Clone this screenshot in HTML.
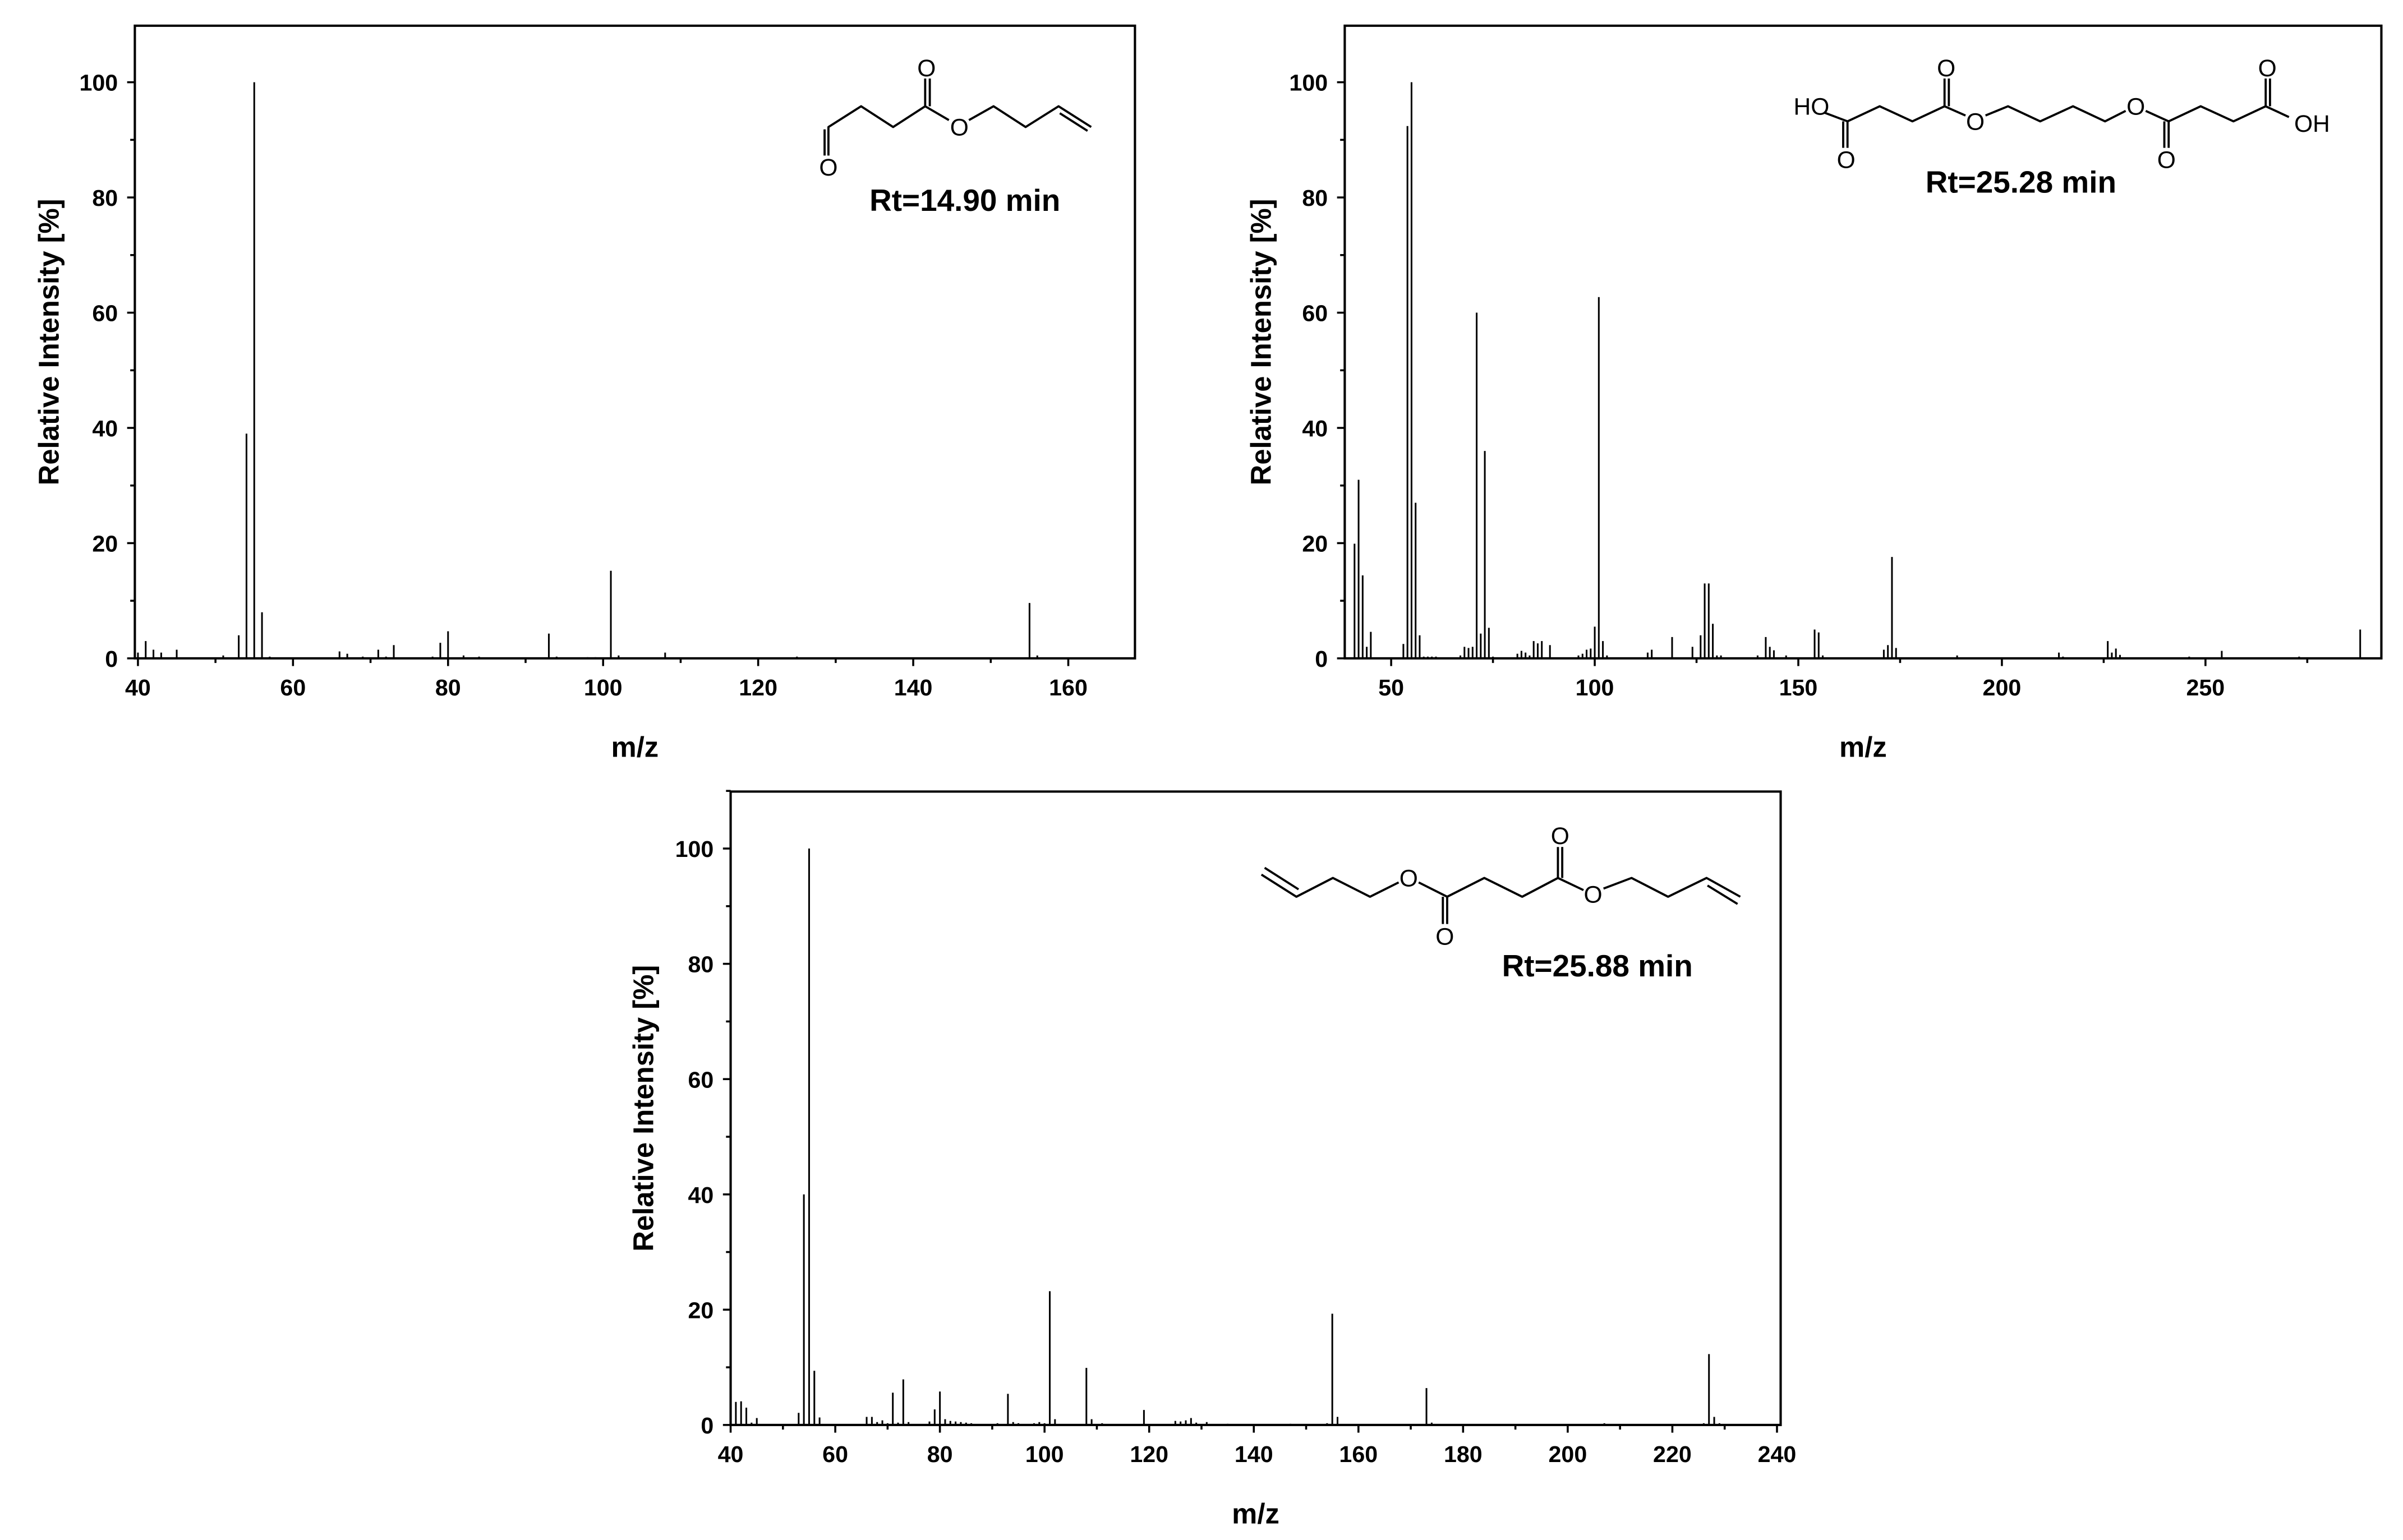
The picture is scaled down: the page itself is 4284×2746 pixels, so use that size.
<!DOCTYPE html>
<html><head><meta charset="utf-8"><style>
html,body{margin:0;padding:0;background:#fff;}
svg{display:block;font-family:"Liberation Sans",Arial,sans-serif;font-weight:bold;}
</style></head><body>
<svg id="fig" width="4284" height="2746" viewBox="0 0 1560 1000" xmlns="http://www.w3.org/2000/svg">
<g id="structures" fill="none" stroke="#000" stroke-width="1.4" stroke-linejoin="round">
 <g>
  <polyline points="537.8,101 537.8,82.5 559,69 579.8,82.5 600.6,69 616,78"/>
  <line x1="535.3" y1="101" x2="535.3" y2="84"/>
  <line x1="600.6" y1="69" x2="600.6" y2="51"/><line x1="603.6" y1="69" x2="603.6" y2="51"/>
  <polyline points="629,78 645,69 665.8,82.5 687.2,69 708.4,82.5"/>
  <line x1="688" y1="73.5" x2="706" y2="85"/>
 </g>
 <g>
  <polyline points="1184,73 1199.4,78.8 1220.3,69 1241.5,78.8 1262.4,69 1276,75"/>
  <line x1="1199.4" y1="78.8" x2="1199.4" y2="96"/><line x1="1196.6" y1="78.8" x2="1196.6" y2="96"/>
  <line x1="1262.4" y1="69" x2="1262.4" y2="51"/><line x1="1265.2" y1="69" x2="1265.2" y2="51"/>
  <polyline points="1289,75 1303.6,69 1324.5,78.8 1345.8,69 1366.6,78.8 1380,72"/>
  <polyline points="1393,72 1407.9,78.8 1428.7,69 1450,78.8 1470.9,69 1486,76"/>
  <line x1="1407.9" y1="78.8" x2="1407.9" y2="96"/><line x1="1405.1" y1="78.8" x2="1405.1" y2="96"/>
  <line x1="1470.9" y1="69" x2="1470.9" y2="51"/><line x1="1473.7" y1="69" x2="1473.7" y2="51"/>
 </g>
 <g>
  <polyline points="818.9,567.9 841.6,582.3 865.3,570.1 889.4,582.3 908,573"/>
  <line x1="821" y1="563.5" x2="843" y2="577.5"/>
  <polyline points="921,573 939.5,582.3 963.6,570.1 988.2,582.3 1011.4,570.1 1028,578"/>
  <line x1="939.5" y1="582.3" x2="939.5" y2="600"/><line x1="936.7" y1="582.3" x2="936.7" y2="600"/>
  <line x1="1011.4" y1="570.1" x2="1011.4" y2="550"/><line x1="1014.2" y1="570.1" x2="1014.2" y2="550"/>
  <polyline points="1041,577 1059.2,570.1 1082.9,582.3 1107.9,570.1 1129.8,582.3"/>
  <line x1="1108.5" y1="575" x2="1128" y2="587"/>
 </g>
</g>
<g font-weight="normal" font-size="15.5" text-anchor="middle" fill="#000">
 <text x="537.8" y="114">O</text>
 <text x="601.5" y="49.5">O</text>
 <text x="622.8" y="88">O</text>
 <text x="1176" y="74.5">HO</text>
 <text x="1198.5" y="109">O</text>
 <text x="1263.5" y="49.5">O</text>
 <text x="1282.4" y="84.3">O</text>
 <text x="1386.6" y="74.5">O</text>
 <text x="1406.5" y="109">O</text>
 <text x="1472" y="49.5">O</text>
 <text x="1501" y="85.5">OH</text>
 <text x="914.5" y="575.5">O</text>
 <text x="938" y="613.5">O</text>
 <text x="1012.8" y="548">O</text>
 <text x="1034.2" y="586.2">O</text>
</g>
<g font-size="20" text-anchor="middle">
 <text x="626.4" y="137">Rt=14.90 min</text>
 <text x="1312" y="125">Rt=25.28 min</text>
 <text x="1037" y="634">Rt=25.88 min</text>
</g>
</svg>
<script>
// Panel 1 data (m/z, relative intensity)
const mz1 = [40,41,42,43,45,51,53,54,55,56,57,66,67,69,71,72,73,78,79,80,82,84,93,94,98,99,101,102,108,125,155,156];
const int1 = [1,3,1.5,1,1.5,0.5,4,39,100,8,0.3,1.2,0.8,0.3,1.5,0.3,2.3,0.3,2.7,4.7,0.5,0.3,4.3,0.3,0.2,0.2,15.2,0.5,1,0.3,9.6,0.5];
const xTicks1 = [40,60,80,100,120,140,160];
// Panel 2 data
const mz2 = [41,42,43,44,45,53,54,55,56,57,58,59,60,61,67,68,69,70,71,72,73,74,75,81,82,83,84,85,86,87,89,96,97,98,99,100,101,102,103,113,114,119,124,126,127,128,129,130,131,140,142,143,144,147,154,155,156,171,172,173,174,189,214,215,226,227,228,229,246,254,273,288];
const int2 = [19.9,31,14.4,2,4.6,2.5,92.4,100,27,4,0.3,0.3,0.3,0.3,0.5,2,1.8,2,60,4.3,36,5.3,0.3,0.8,1.3,1,0.5,3,2.6,3,2.3,0.5,0.8,1.5,1.7,5.5,62.7,3,0.5,1,1.5,3.7,2,4,13,13,6,0.5,0.5,0.5,3.7,2,1.4,0.5,5,4.5,0.5,1.5,2.3,17.6,1.8,0.5,1,0.3,3,1,1.7,0.6,0.3,1.3,0.3,5];
const xTicks2 = [50,100,150,200,250];
// Panel 3 data
const mz3 = [41,42,43,44,45,53,54,55,56,57,66,67,68,69,70,71,72,73,74,78,79,80,81,82,83,84,85,86,91,93,94,95,98,99,100,101,102,108,109,111,119,125,126,127,128,129,131,135,147,154,155,156,173,174,207,226,227,228,229];
const int3 = [4,4.1,3,0.4,1.2,2.1,40,100,9.4,1.3,1.4,1.4,0.5,0.8,0.3,5.6,0.4,7.9,0.5,0.6,2.7,5.8,1,0.7,0.6,0.5,0.4,0.3,0.3,5.4,0.5,0.3,0.3,0.5,0.3,23.2,1,9.9,1,0.3,2.6,0.7,0.6,0.8,1.2,0.4,0.5,0.2,0.2,0.3,19.3,1.4,6.4,0.4,0.3,0.3,12.3,1.4,0.3];
const xTicks3 = [40,60,80,100,120,140,160,180,200,220,240];
const yTicks = [0,20,40,60,80,100];

const NS = 'http://www.w3.org/2000/svg';
const svg = document.getElementById('fig');
function mk(tag, attrs, parent){const e=document.createElementNS(NS,tag);for(const k in attrs)e.setAttribute(k,attrs[k]);parent.appendChild(e);return e;}

function panel(id, box, xmin, xmax, xTicks, minorStep, mz, inten, ylabX){
  const g = mk('g',{},svg);
  
  
  const [L,T,R,B] = box;
  const y0 = B, y100 = box[4];
  const sx = v => L + (v - xmin) / (xmax - xmin) * (R - L);
  const sy = v => y0 - v / 100 * (y0 - y100);
  for (let i = 0; i < mz.length; i++) {
    const b = mk('line',{x1:sx(mz[i]),x2:sx(mz[i]),y1:y0,y2:sy(inten[i]),stroke:'#000','stroke-width':1.1},g);
    
    
  }
  const fr = mk('rect',{x:L,y:T,width:R-L,height:B-T,fill:'none',stroke:'#000','stroke-width':1.5},g);
  
  
  for (let v = 0; v <= 110; v += 10) {
    const y = sy(v); if (y < T - 0.5) break;
    mk('line',{x1:L,x2:L-(v%20===0?5:3),y1:y,y2:y,stroke:'#000','stroke-width':1.3},g);
  }
  yTicks.forEach(v => {
    const t = mk('text',{x:L-11,y:sy(v)+5.5,'text-anchor':'end','font-size':15},g);
    t.textContent = v;
    
    
  });
  const start = Math.ceil(xmin / minorStep) * minorStep;
  for (let v = start; v <= xmax; v += minorStep) {
    const major = xTicks.includes(v);
    mk('line',{x1:sx(v),x2:sx(v),y1:B,y2:B+(major?5:3),stroke:'#000','stroke-width':1.3},g);
  }
  xTicks.forEach(v => {
    const t = mk('text',{x:sx(v),y:B+24,'text-anchor':'middle','font-size':15},g);
    t.textContent = v;
    
    
  });
  const xt = mk('text',{x:(L+R)/2,y:B+64,'text-anchor':'middle','font-size':18.5},g);
  xt.textContent = 'm/z';
  
  
  const cy = (T+B)/2;
  const yt = mk('text',{x:ylabX,y:cy,'text-anchor':'middle','font-size':18.5,transform:`rotate(-90 ${ylabX} ${cy})`},g);
  yt.textContent = 'Relative Intensity [%]';
  
  
}
panel('spectrum-panel-1',[87.5,16.7,736.8,427.5,53.4],39.6,168.6,xTicks1,10,mz1,int1,38);
panel('spectrum-panel-2',[873,16.7,1546,427.5,53.4],38.6,293.2,xTicks2,25,mz2,int2,825);
panel('spectrum-panel-3',[474.3,514,1156,925.3,551],40,240.7,xTicks3,10,mz3,int3,424);
</script>
</body></html>
